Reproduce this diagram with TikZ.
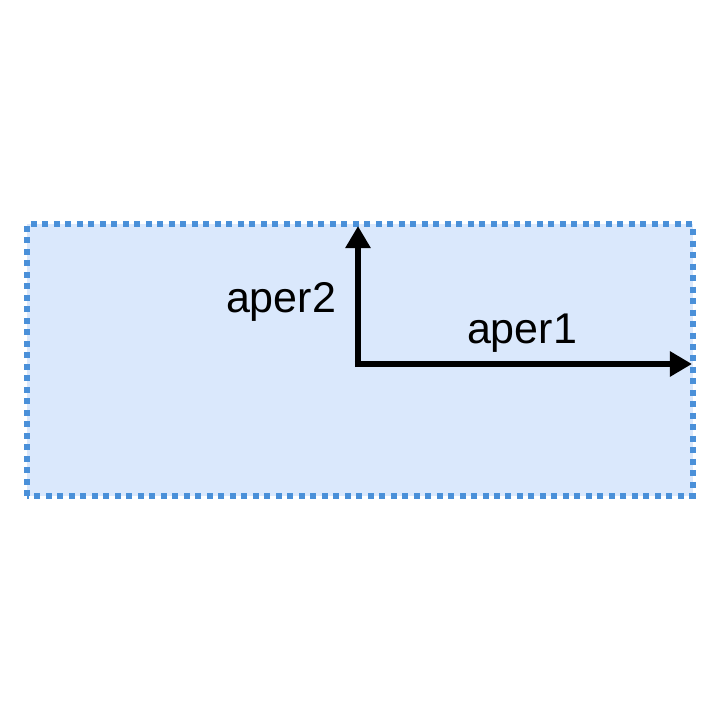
\documentclass[tikz,border=0pt]{standalone}
\usepackage{fontspec}
\setmainfont{Liberation Sans}
\definecolor{aperblue}{HTML}{4A90D9}
\definecolor{aperfill}{HTML}{DAE8FC}
\usetikzlibrary{arrows.meta, positioning}

\begin{document}
\begin{tikzpicture}[x=0.5pt, y=0.5pt,
      aperture/.style={draw=aperblue, fill=aperfill, line width=3pt, dash pattern=on 3pt off 2.75pt},
      axisarrow/.style={line width=3pt, -{Triangle[length=11pt, width=12pt]}},
      axislabel/.style={anchor=base, font=\fontsize{21.5}{26}\selectfont}]
   \useasboundingbox (0,0) rectangle (720,720);
   % Aperture region
   \draw[aperture] (27,224) rectangle (693,496);
   % Axes
   \coordinate (origin) at (358,356);
   \coordinate (tip1) at (692,356);
   \coordinate (tip2) at (358,494);
   \draw[axisarrow] ([xshift=-1.5pt]origin) -- (tip1);
   \draw[axisarrow] ([yshift=-1.5pt]origin) -- (tip2);
   % Labels
   \node[axislabel] (aper1) at (522,377) {aper1};
   \node[axislabel] (aper2) at (281,408) {aper2};
\end{tikzpicture}
\end{document}
